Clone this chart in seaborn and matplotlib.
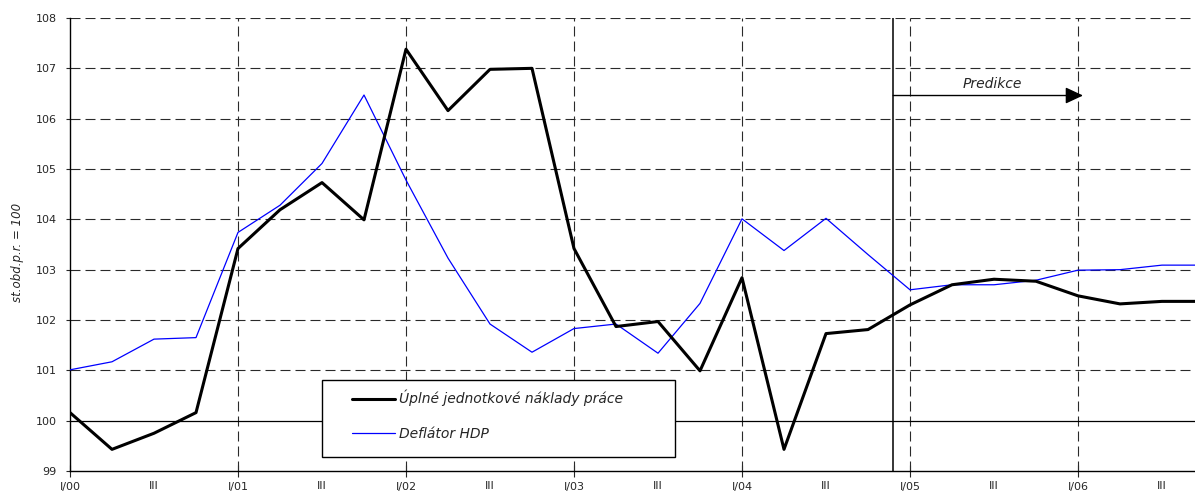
import matplotlib
matplotlib.use("Agg")
import matplotlib.pyplot as plt
from matplotlib.patches import Rectangle
import numpy as np
import pandas as pd
import seaborn as sns

# ---- data ----
quarters = ["I/00", "II/00", "III/00", "IV/00",
            "I/01", "II/01", "III/01", "IV/01",
            "I/02", "II/02", "III/02", "IV/02",
            "I/03", "II/03", "III/03", "IV/03",
            "I/04", "II/04", "III/04", "IV/04",
            "I/05", "II/05", "III/05", "IV/05",
            "I/06", "II/06", "III/06", "IV/06"]
year_labels = ["I/00", "I/01", "I/02", "I/03", "I/04", "I/05", "I/06"]
mid_labels = ["III", "III", "III", "III", "III", "III", "III"]
labour_cost = [100.16, 99.43, 99.75, 100.16, 103.42, 104.19, 104.73, 103.99,
               107.38, 106.16, 106.98, 107.00, 103.42, 101.87, 101.97, 100.99,
               102.84, 99.43, 101.73, 101.81, 102.30, 102.70, 102.81, 102.77,
               102.48, 102.32, 102.37, 102.37]
deflator = [101.01, 101.17, 101.62, 101.65, 103.74, 104.28, 105.11, 106.47,
            104.78, 103.23, 101.92, 101.36, 101.83, 101.92, 101.34, 102.33,
            104.01, 103.38, 104.02, 103.30, 102.60, 102.70, 102.70, 102.79,
            102.99, 103.00, 103.09, 103.09]
label_labour = "Úplné jednotkové náklady práce"
label_defl = "Deflátor HDP"
ylabel = "st.obd.p.r. = 100"
pred_text = "Predikce"

sns.set_style("white")
plt.rcParams["font.family"] = ["DejaVu Sans"]

df = pd.DataFrame({"pos": np.arange(len(quarters)),
                   "labour": labour_cost, "defl": deflator})

fig = plt.figure(figsize=(11.95, 4.95), dpi=100)
W, H = 1195, 495
ax = fig.add_axes([70 / W, (H - 471) / H, 1125 / W, 453 / H])

dash = (0, (9, 4.5))
gridc = "#2a2a2a"

sns.lineplot(data=df, x="pos", y="defl", ax=ax, color="#0000ff", lw=0.9,
             label=label_defl, zorder=3)
sns.lineplot(data=df, x="pos", y="labour", ax=ax, color="black", lw=2.2,
             label=label_labour, zorder=4)

ax.set_xlim(0, 1125 / 42)
ax.set_ylim(99, 108)

year_pos = np.arange(0, len(quarters), 4)
mid_pos = np.arange(2, len(quarters), 4)

# grids
for yv in range(101, 109):
    ax.axhline(yv, color=gridc, lw=0.8, ls=dash, zorder=1)
for xv in year_pos[1:]:
    ax.axvline(xv, color=gridc, lw=0.8, ls=dash, zorder=1)
ax.axhline(100, color="black", lw=0.9, zorder=2)

# prediction marker
ax.axvline(19.6, color="black", lw=1.1, zorder=2)
ax.annotate("", xy=(24.12, 106.46), xytext=(19.6, 106.46),
            arrowprops=dict(arrowstyle="-|>,head_length=0.9,head_width=0.42",
                            mutation_scale=12, color="black", lw=1.0,
                            shrinkA=0, shrinkB=0), zorder=5)
ax.text(21.95, 106.55, pred_text, ha="center", va="bottom", fontsize=10,
        style="italic")

# ticks
ax.set_xticks(year_pos)
ax.set_xticklabels(year_labels, fontsize=8)
ax.set_xticks(mid_pos, minor=True)
ax.set_xticklabels(mid_labels, minor=True, fontsize=8)
ax.set_yticks(range(99, 109))
ax.set_yticklabels([str(v) for v in range(99, 109)], fontsize=8)
ax.tick_params(axis="y", direction="out", length=3.2, width=0.8, pad=6.3,
               left=True)
ax.tick_params(axis="x", which="major", direction="inout", length=8.5,
               width=0.8, pad=4.0, bottom=True)
ax.tick_params(axis="x", which="minor", length=0, pad=7.0, bottom=True)
ax.set_xlabel("")
ax.set_ylabel(ylabel, fontsize=8.5, style="italic")
ax.yaxis.set_label_coords(-46 / 1125, 0.483)

for s in ["top", "right"]:
    ax.spines[s].set_visible(False)
for s in ["left", "bottom"]:
    ax.spines[s].set_color("black")
    ax.spines[s].set_linewidth(1.0)

# legend
ax.add_patch(Rectangle((252 / 1125, 14 / 453), 353 / 1125, 77 / 453,
                       transform=ax.transAxes, facecolor="white",
                       edgecolor="black", lw=1.0, zorder=6))
handles, labels = ax.get_legend_handles_labels()
order = [labels.index(label_labour), labels.index(label_defl)]
leg = ax.legend([handles[i] for i in order], [labels[i] for i in order],
                loc="upper left", bbox_to_anchor=(282 / 1125, 81 / 453),
                frameon=False, borderpad=0, borderaxespad=0,
                handlelength=3.1, handletextpad=0.25, labelspacing=1.45,
                prop={"size": 10, "style": "italic"})
leg.set_zorder(7)

fig.savefig("out.png", dpi=100, facecolor="white")
